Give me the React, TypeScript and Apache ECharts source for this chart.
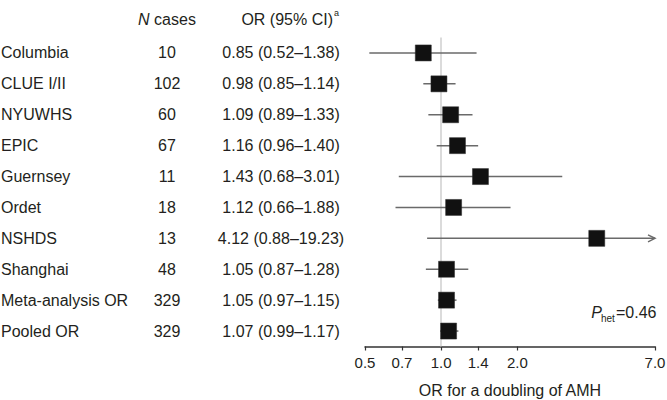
import React, { useEffect, useRef } from "react";
import * as echarts from "echarts";

const studies = ["Columbia", "CLUE I/II", "NYUWHS", "EPIC", "Guernsey", "Ordet", "NSHDS", "Shanghai", "Meta-analysis OR", "Pooled OR"];
const nCases = [10, 102, 60, 67, 11, 18, 13, 48, 329, 329];
const oddsRatio = [0.85, 0.98, 1.09, 1.16, 1.43, 1.12, 4.12, 1.05, 1.05, 1.07];
const ciLow = [0.52, 0.85, 0.89, 0.96, 0.68, 0.66, 0.88, 0.87, 0.97, 0.99];
const ciHigh = [1.38, 1.14, 1.33, 1.40, 3.01, 1.88, 19.23, 1.28, 1.15, 1.17];
const tickValues = [0.5, 0.7, 1.0, 1.4, 2.0, 7.0];
const axisMin = 0.5;
const axisMax = 7.0;

const FONT = "'Liberation Sans', Arial, Helvetica, sans-serif";
const TEXT = "#231f20";

export default function App() {
  const ref = useRef<HTMLDivElement>(null);
  useEffect(() => {
    if (!ref.current) return;
    const chart = echarts.init(ref.current, null, { renderer: "svg" });
    const lnMin = Math.log(axisMin);
    const lnMax = Math.log(axisMax);
    const orText = oddsRatio.map(
      (v, i) => `${v.toFixed(2)} (${ciLow[i].toFixed(2)}–${ciHigh[i].toFixed(2)})`
    );
    const gridLeft = 365;
    const baseLabel = { fontFamily: FONT, fontSize: 16, color: TEXT };
    const hiddenAxis = {
      type: "category" as const,
      data: studies,
      inverse: true,
      position: "left" as const,
      offset: 0,
      axisLine: { show: false },
      axisTick: { show: false },
      splitLine: { show: false },
    };
    const option: any = {
      animation: false,
      textStyle: { fontFamily: FONT },
      grid: {
        left: gridLeft,
        right: 12,
        top: 37.5,
        bottom: 53.5,
        containLabel: false,
        outerBoundsMode: "none",
      },
      xAxis: {
        type: "value",
        min: lnMin,
        max: lnMax,
        axisLine: { show: true, lineStyle: { color: "#333", width: 1.5 } },
        axisTick: {
          show: true,
          length: 4,
          lineStyle: { color: "#333", width: 1.2 },
          customValues: tickValues.map((v) => Math.log(v)),
        },
        axisLabel: {
          fontFamily: FONT,
          fontSize: 15,
          color: TEXT,
          margin: 8,
          customValues: tickValues.map((v) => Math.log(v)),
          formatter: (v: number) => Math.exp(v).toFixed(1),
        },
        splitLine: { show: false },
        name: "OR for a doubling of AMH",
        nameLocation: "middle",
        nameGap: 36,
        nameTextStyle: { fontFamily: FONT, fontSize: 16, color: TEXT },
      },
      yAxis: [
        {
          ...hiddenAxis,
          axisLabel: { ...baseLabel, align: "left", margin: gridLeft - 1 },
        },
        {
          ...hiddenAxis,
          axisLabel: {
            ...baseLabel,
            align: "center",
            margin: gridLeft - 167,
            formatter: (_v: string, i: number) => String(nCases[i]),
          },
        },
        {
          ...hiddenAxis,
          axisLabel: {
            ...baseLabel,
            align: "center",
            margin: gridLeft - 281,
            formatter: (_v: string, i: number) => orText[i],
          },
        },
      ],
      graphic: [
        {
          type: "text",
          x: 167,
          y: 19,
          style: {
            text: "{i|N} cases",
            font: `16px ${FONT}`,
            fill: TEXT,
            align: "center",
            verticalAlign: "middle",
            rich: { i: { fontStyle: "italic", fontSize: 16, fontFamily: FONT, fill: TEXT } },
          },
        },
        {
          type: "text",
          x: 333,
          y: 19,
          style: {
            text: "OR (95% CI)",
            font: `16px ${FONT}`,
            fill: TEXT,
            align: "right",
            verticalAlign: "middle",
          },
        },
        {
          type: "text",
          x: 334,
          y: 13,
          style: { text: "a", font: `9px ${FONT}`, fill: TEXT, align: "left", verticalAlign: "middle" },
        },
        {
          type: "text",
          x: 602,
          y: 312,
          style: { text: "P", font: `italic 16px ${FONT}`, fill: TEXT, align: "right", verticalAlign: "middle" },
        },
        {
          type: "text",
          x: 601,
          y: 318,
          style: { text: "het", font: `10px ${FONT}`, fill: TEXT, align: "left", verticalAlign: "middle" },
        },
        {
          type: "text",
          x: 616,
          y: 312,
          style: { text: "=0.46", font: `16px ${FONT}`, fill: TEXT, align: "left", verticalAlign: "middle" },
        },
      ],
      series: [
        {
          type: "custom",
          xAxisIndex: 0,
          yAxisIndex: 0,
          clip: false,
          encode: { x: [0, 1], y: 2 },
          data: ciLow.map((l, i) => [Math.log(l), Math.log(ciHigh[i]), i]),
          renderItem: (params: any, api: any) => {
            const lo = api.value(0);
            const hi = api.value(1);
            const idx = api.value(2);
            const clipped = hi > lnMax;
            const p0 = api.coord([Math.max(lo, lnMin), idx]);
            const p1 = api.coord([Math.min(hi, lnMax), idx]);
            const style = { stroke: "#6a6a6a", lineWidth: 1.5, fill: "none" };
            const children: any[] = [
              { type: "line", shape: { x1: p0[0], y1: p0[1], x2: p1[0], y2: p1[1] }, style },
            ];
            if (clipped) {
              children.push({
                type: "polyline",
                shape: { points: [[p1[0] - 7, p1[1] - 3.5], [p1[0], p1[1]], [p1[0] - 7, p1[1] + 3.5]] },
                style,
              });
            }
            return { type: "group", children };
          },
          z: 2,
        },
        {
          type: "scatter",
          xAxisIndex: 0,
          yAxisIndex: 0,
          symbol: "rect",
          symbolSize: 16,
          itemStyle: { color: "#111111", opacity: 1, borderColor: "#2a2a2a", borderWidth: 0.5 },
          data: oddsRatio.map((v, i) => [Math.log(v), i]),
          z: 3,
          markLine: {
            silent: true,
            symbol: "none",
            label: { show: false },
            lineStyle: { color: "#cfcfcf", type: "solid", width: 1.5 },
            data: [{ xAxis: 0 }],
            z: 1,
          },
        },
      ],
    };
    chart.setOption(option);
    return () => chart.dispose();
  }, []);
  return (
    <div
      ref={ref}
      style={{ position: "fixed", left: 0, top: 0, width: 667, height: 400, background: "#fff" }}
    />
  );
}
